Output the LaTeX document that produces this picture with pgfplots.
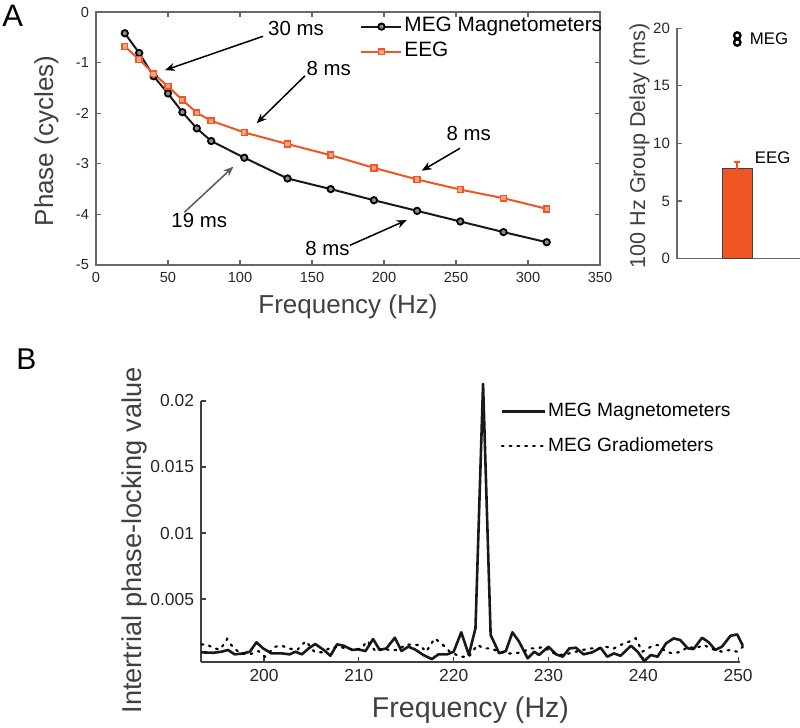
\documentclass[border=0pt]{standalone}
\usepackage{pgfplots}
\pgfplotsset{compat=1.18}
\usepackage{fontspec}
\setmainfont{Liberation Sans}
\usetikzlibrary{arrows.meta}
\definecolor{eegor}{RGB}{240,86,36}
\definecolor{axgray}{RGB}{105,105,105}
\definecolor{txtgray}{RGB}{64,64,64}
\pgfplotsset{/pgf/number format/assume math mode=true}
\begin{document}
\begin{tikzpicture}
\useasboundingbox (0,0) rectangle (400pt,364pt);
\node[anchor=base west, inner sep=0pt, font=\fontsize{15.5}{16}\selectfont] at (1pt,350.5pt) {A};
\node[anchor=base west, inner sep=0pt, font=\fontsize{15}{16}\selectfont] at (8pt,179pt) {B};

% ---------------- Panel A: phase vs frequency ----------------
\begin{axis}[
  at={(48pt,231.5pt)}, anchor=south west,
  scale only axis, width=252pt, height=126.5pt,
  xmin=0, xmax=350, ymin=-5, ymax=0,
  xtick={0,50,...,350}, ytick={-5,-4,...,0},
  tick align=inside, major tick length=2.5pt,
  axis line style={axgray, line width=0.6pt},
  every tick/.style={axgray, line width=0.6pt},
  tick label style={font=\fontsize{7.3}{8}\selectfont, text=black!85},
  xlabel={Frequency (Hz)}, ylabel={Phase (cycles)},
  label style={font=\fontsize{13}{14}\selectfont, text=txtgray},
  xlabel style={at={(axis description cs:0.5,-0.19)}, anchor=base},
  ylabel style={at={(axis description cs:-0.085,0.49)}, anchor=base},
  clip=false,
  legend style={at={(axis description cs:0.524,0.99)}, anchor=north west,
    draw=none, fill=none, inner sep=0pt, row sep=0.8pt,
    font=\fontsize{10.4}{11}\selectfont,
    nodes={inner sep=1pt, text height=7.5pt, text depth=2.2pt}},
  legend cell align=left,
  legend image code/.code={\draw[mark repeat=2,mark phase=2,#1] plot coordinates {(0pt,0pt) (10pt,0pt) (20pt,0pt)};},
]
\addplot[black!90, line width=1pt, mark=*, mark size=1.6pt, mark options={line width=0.9pt, draw=black, fill=black!45}]
coordinates {(20,-0.42)(30,-0.81)(40,-1.27)(50,-1.61)(60,-1.98)(70,-2.30)(80,-2.55)(103,-2.88)(133,-3.29)(163,-3.50)(193,-3.72)(223,-3.93)(253,-4.14)(283,-4.35)(313,-4.55)};
\addlegendentry{MEG Magnetometers}
\addplot[eegor, line width=1pt, mark=square*, mark size=1.45pt, mark options={line width=0.8pt, draw=eegor, fill=eegor!55}]
coordinates {(20,-0.68)(30,-0.94)(40,-1.22)(50,-1.47)(60,-1.74)(70,-1.99)(80,-2.15)(103,-2.38)(133,-2.61)(163,-2.83)(193,-3.08)(223,-3.31)(253,-3.51)(283,-3.68)(313,-3.89)};
\addlegendentry{EEG}
% annotations
\draw[-{Stealth[length=5pt,width=4pt]}, line width=0.75pt] (axis cs:116,-0.48) -- (axis cs:47.9,-1.15);
\node[font=\fontsize{10.2}{11}\selectfont] at (axis cs:138.9,-0.335) {30 ms};
\draw[-{Stealth[length=5pt,width=4pt]}, line width=0.75pt] (axis cs:145.1,-1.262) -- (axis cs:111.6,-2.198);
\node[font=\fontsize{10.2}{11}\selectfont] at (axis cs:161.6,-1.11) {8 ms};
\draw[-{Stealth[length=5pt,width=4pt]}, line width=0.75pt, black!65] (axis cs:61.3,-3.96) -- (axis cs:95.4,-3.057);
\node[font=\fontsize{10.2}{11}\selectfont] at (axis cs:71.7,-4.13) {19 ms};
\draw[-{Stealth[length=5pt,width=4pt]}, line width=0.75pt] (axis cs:176.4,-4.61) -- (axis cs:215.8,-4.113);
\node[font=\fontsize{10.2}{11}\selectfont] at (axis cs:160.8,-4.673) {8 ms};
\draw[-{Stealth[length=5pt,width=4pt]}, line width=0.75pt] (axis cs:252.8,-2.693) -- (axis cs:226.2,-3.137);
\node[font=\fontsize{10.2}{11}\selectfont] at (axis cs:258.9,-2.396) {8 ms};
\end{axis}

% ---------------- Panel A right: group delay ----------------
\begin{axis}[
  at={(338.5pt,234.65pt)}, anchor=south west,
  scale only axis, width=61.5pt, height=115.2pt,
  xmin=0, xmax=1, ymin=0, ymax=20,
  axis x line=bottom, axis y line=left,
  axis line style={-, axgray, line width=0.6pt},
  every tick/.style={axgray, line width=0.6pt},
  xtick=\empty, ytick={0,5,...,20},
  tick align=inside, major tick length=2.5pt,
  tick label style={font=\fontsize{7.5}{8}\selectfont, text=black!85},
  ylabel={100 Hz Group Delay (ms)},
  ylabel style={font=\fontsize{10.8}{12}\selectfont, text=txtgray, at={(axis description cs:-0.26,0.49)}, anchor=base},
  clip=false,
]
\addplot[ybar, bar width=15pt, fill=eegor, draw=black!75, line width=0.5pt,
  error bars/.cd, y dir=plus, y explicit,
  error bar style={eegor, line width=1pt},
  error mark options={eegor, rotate=90, mark size=1.6pt, line width=1pt}]
coordinates {(0.49,7.8) +- (0,0.57)};
\addplot[only marks, mark=o, mark size=1.6pt, mark options={black, line width=1.2pt}]
coordinates {(0.49,19.37) (0.49,18.77)};
\node[anchor=west, inner sep=0pt, font=\fontsize{8.4}{9}\selectfont] at (axis cs:0.59,19.1) {MEG};
\node[anchor=west, inner sep=0pt, font=\fontsize{8.4}{9}\selectfont] at (axis cs:0.63,8.74) {EEG};
\end{axis}

% ---------------- Panel B: ITPC ----------------
\begin{axis}[
  at={(100.5pt,33pt)}, anchor=south west,
  scale only axis, width=269.5pt, height=130.5pt,
  xmin=193.35, xmax=250.2, ymin=0.00023, ymax=0.02,
  axis x line=bottom, axis y line=left,
  axis line style={-, black!75, line width=0.6pt},
  every tick/.style={black!75, line width=0.6pt},
  xtick={200,210,...,250}, ytick={0.005,0.01,0.015,0.02},
  scaled y ticks=false,
  yticklabel style={/pgf/number format/fixed, /pgf/number format/precision=3},
  tick align=inside, major tick length=2.5pt,
  tick label style={font=\fontsize{8.7}{9}\selectfont, text=black!85},
  xlabel={Frequency (Hz)}, ylabel={Intertrial phase-locking value},
  xlabel style={font=\fontsize{14.3}{15}\selectfont, text=txtgray, at={(axis description cs:0.5,-0.211)}, anchor=base},
  ylabel style={font=\fontsize{13.6}{14}\selectfont, text=txtgray, at={(axis description cs:-0.1095,0.466)}, anchor=base},
  clip=false,
  legend style={at={(axis description cs:0.555,1.004)}, anchor=north west,
    draw=none, fill=none, inner sep=0pt, row sep=6.5pt,
    font=\fontsize{9.6}{10}\selectfont,
    nodes={inner sep=1pt, text height=7pt, text depth=2pt}},
  legend cell align=left,
  legend image code/.code={\draw[#1] (0pt,0pt) -- (21.5pt,0pt);},
]
\addplot[black!90, line width=1.3pt, line join=round] coordinates {
(193.35,0.00096)(194.65,0.00093)(195.5,0.00101)(196.2,0.00114)(196.9,0.00081)(197.8,0.00088)
(198.5,0.00101)(199.2,0.00172)(199.9,0.00126)(200.8,0.00088)(201.9,0.00088)(202.7,0.00081)
(203.3,0.00101)(204.0,0.00081)(204.7,0.00126)(205.4,0.00159)(206.3,0.00114)(207.0,0.00070)
(207.7,0.00157)(208.4,0.00146)(209.3,0.00114)(209.9,0.00119)(210.7,0.00106)(211.5,0.00197)
(212.2,0.00114)(212.9,0.00126)(213.8,0.00207)(214.5,0.00106)(215.2,0.00139)(215.9,0.00119)
(216.8,0.00076)(217.7,0.00045)(218.4,0.00081)(219.3,0.00081)(220.0,0.00101)(220.8,0.00248)
(221.6,0.00076)(222.3,0.00278)(223.1,0.02130)(223.9,0.00227)(224.8,0.00089)(225.5,0.00106)
(226.2,0.00248)(226.9,0.00177)(227.8,0.00051)(228.5,0.00101)(229.0,0.00076)(230.0,0.00139)
(230.8,0.00081)(231.5,0.00063)(232.2,0.00126)(232.9,0.00131)(233.7,0.00081)(234.6,0.00096)
(235.5,0.00131)(236.2,0.00063)(236.9,0.00088)(237.6,0.00070)(238.7,0.00146)(239.4,0.00101)
(240.1,0.00030)(240.8,0.00076)(241.5,0.00063)(242.4,0.00164)(243.2,0.00202)(243.9,0.00189)
(244.7,0.00126)(245.3,0.00121)(246.2,0.00207)(246.9,0.00172)(247.6,0.00114)(248.3,0.00139)
(249.2,0.00222)(249.9,0.00232)(250.5,0.00146)};
\addlegendentry{MEG Magnetometers}
\addplot[black, line width=1.1pt, dash pattern=on 0.9pt off 3pt, line cap=round] coordinates {
(193.4,0.00157)(194.1,0.00152)(194.65,0.00126)(195.4,0.00119)(196.1,0.00197)(196.8,0.00126)
(197.6,0.00088)(198.5,0.00081)(199.4,0.00106)(200.1,0.00063)(201.2,0.00139)(201.9,0.00146)
(202.6,0.00126)(203.5,0.00114)(204.4,0.00182)(205.3,0.00101)(206.1,0.00096)(207.0,0.00131)
(207.9,0.00139)(208.6,0.00126)(209.3,0.00121)(210.2,0.00121)(210.9,0.00182)(211.8,0.00101)
(212.5,0.00126)(213.2,0.00114)(214.1,0.00114)(215.0,0.00157)(215.7,0.00152)(216.4,0.00152)
(217.1,0.00101)(218.0,0.00202)(218.7,0.00164)(219.6,0.00101)(220.7,0.00063)(221.6,0.00063)
(222.5,0.00152)(223.2,0.00126)(223.9,0.00126)(224.8,0.00101)(225.7,0.00088)(226.5,0.00088)
(227.3,0.00101)(228.1,0.00126)(228.8,0.00126)(229.5,0.00139)(230.2,0.00101)(231.1,0.00076)
(231.8,0.00081)(232.9,0.00101)(233.6,0.00114)(234.5,0.00126)(235.3,0.00126)(236.0,0.00139)
(236.9,0.00126)(237.6,0.00152)(238.5,0.00177)(239.2,0.00202)(239.9,0.00101)(240.8,0.00139)
(241.5,0.00152)(242.4,0.00101)(243.1,0.00088)(244.0,0.00101)(244.7,0.00139)(245.5,0.00126)
(246.4,0.00152)(247.1,0.00126)(247.6,0.00114)(248.3,0.00101)(249.1,0.00114)(249.9,0.00101)
(250.5,0.00139)};
\addlegendentry{MEG Gradiometers}
\end{axis}
\end{tikzpicture}
\end{document}
